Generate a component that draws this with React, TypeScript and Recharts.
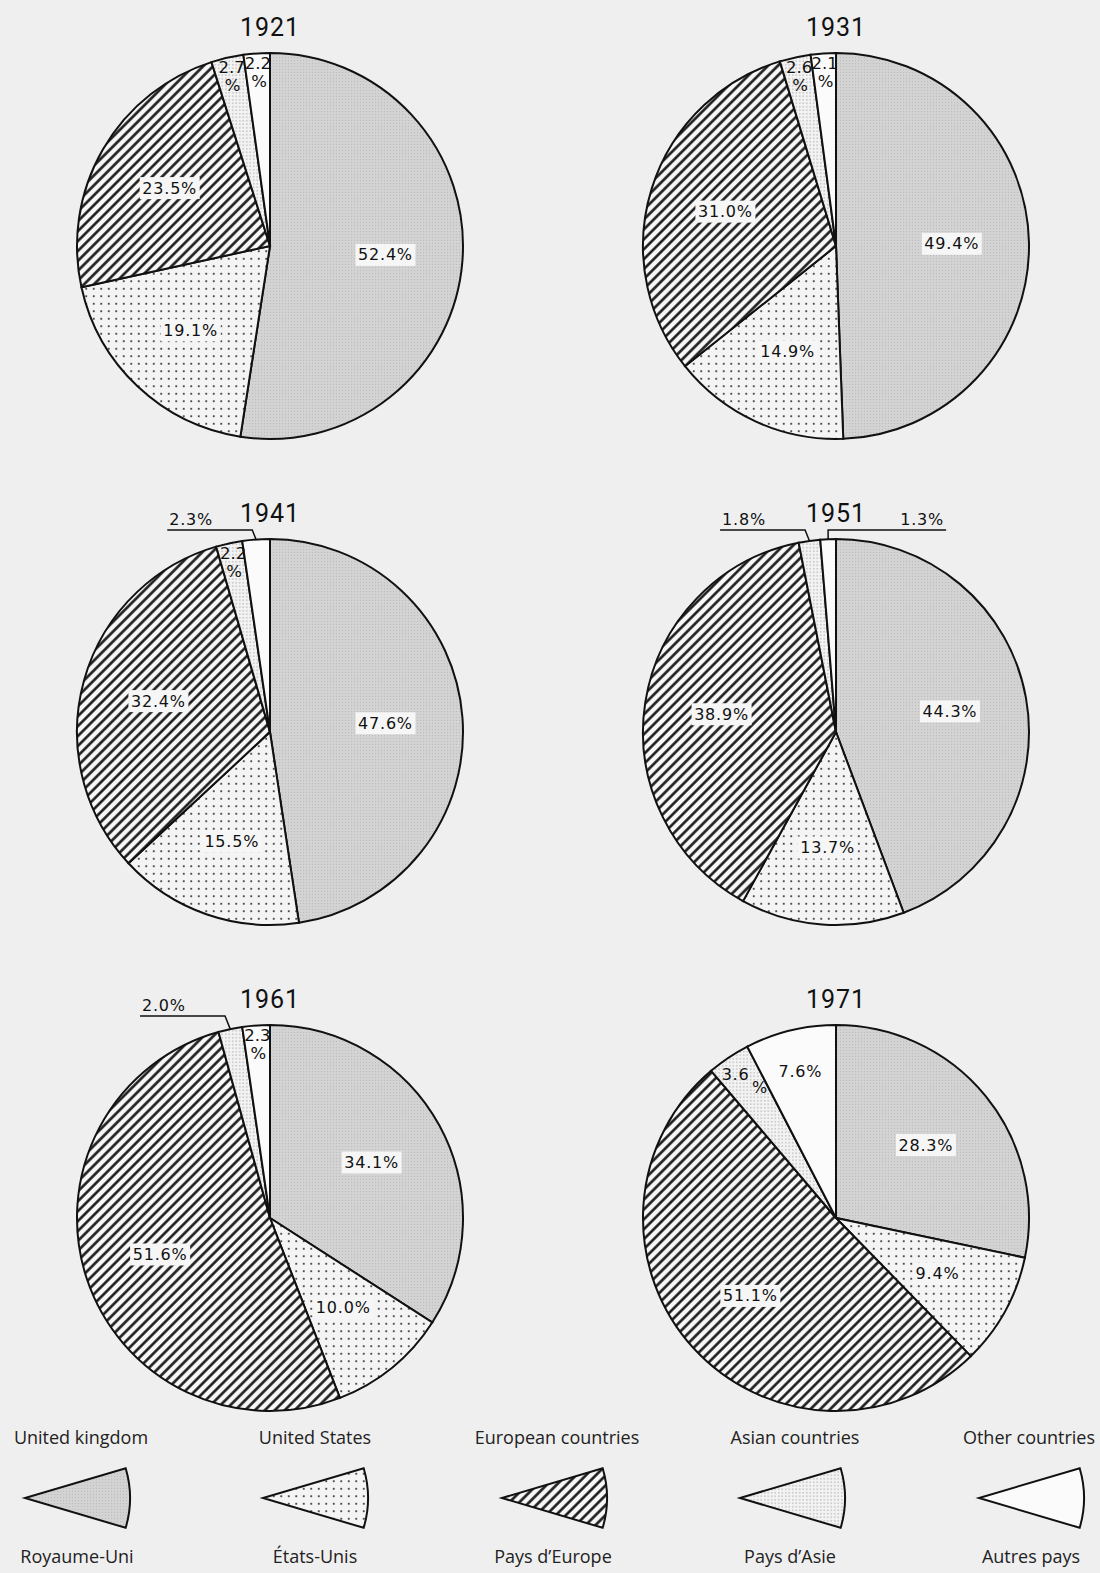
import React from 'react';
import { PieChart, Pie, Cell } from 'recharts';

const YEARS = ['1921', '1931', '1941', '1951', '1961', '1971'];
const CATEGORIES_EN = ['United kingdom', 'United States', 'European countries', 'Asian countries', 'Other countries'];
const CATEGORIES_FR = ['Royaume-Uni', 'États-Unis', 'Pays d’Europe', 'Pays d’Asie', 'Autres pays'];
const UNITED_KINGDOM = [52.4, 49.4, 47.6, 44.3, 34.1, 28.3];
const UNITED_STATES = [19.1, 14.9, 15.5, 13.7, 10.0, 9.4];
const EUROPEAN = [23.5, 31.0, 32.4, 38.9, 51.6, 51.1];
const ASIAN = [2.7, 2.6, 2.2, 1.8, 2.0, 3.6];
const OTHER = [2.2, 2.1, 2.3, 1.3, 2.3, 7.6];
const SERIES = [UNITED_KINGDOM, UNITED_STATES, EUROPEAN, ASIAN, OTHER];

// layout (not data)
const FILLS = ['url(#pUK)', 'url(#pUS)', 'url(#pEU)', 'url(#pAS)', 'url(#pOT)'];
const PIE_POS = [
  { cx: 270, cy: 246 },
  { cx: 836, cy: 246 },
  { cx: 270, cy: 732 },
  { cx: 836, cy: 732 },
  { cx: 270, cy: 1218 },
  { cx: 836, cy: 1218 },
];
const R = 193;
const LABEL_MODES = [
  ['box', 'box', 'box', 'stack', 'stack'],
  ['box', 'box', 'box', 'stack', 'stack'],
  ['box', 'box', 'box', 'stack', 'leaderLeft'],
  ['box', 'box', 'box', 'leaderLeft', 'leaderRight'],
  ['box', 'box', 'box', 'leaderLeft', 'stack'],
  ['box', 'box', 'box', 'diag', 'inline'],
];
const LEGEND_X = [25, 263, 502, 740, 979];
const LEGEND_TEXT_X = [81, 315, 557, 795, 1029];
const LEGEND_FR_X = [77, 315, 553, 790, 1031];

const RAD = Math.PI / 180;
const polar = (cx: number, cy: number, r: number, a: number) => [
  cx + r * Math.cos(-a * RAD),
  cy + r * Math.sin(-a * RAD),
];

const LABEL_FONT = '"DejaVu Sans", sans-serif';

const makeLabel = (yi: number) => (props: any) => {
  const { cx, cy, midAngle, outerRadius, index, value } = props;
  const mode = LABEL_MODES[yi][index];
  const v = Number(value).toFixed(1);
  const common = { fontFamily: LABEL_FONT, fill: '#111', fontSize: 16 };
  if (mode === 'box') {
    const [x, y] = polar(cx, cy, outerRadius * 0.6, midAngle);
    const txt = `${v}%`;
    const w = txt.length * 10.8 + 6;
    return (
      <g key={`l${index}`}>
        <rect x={x - w / 2} y={y - 11} width={w} height={22} fill="#f6f6f6" />
        <text x={x} y={y} textAnchor="middle" dominantBaseline="central" letterSpacing={0.8} {...common}>
          {txt}
        </text>
      </g>
    );
  }
  if (mode === 'stack') {
    const [x, y] = polar(cx, cy, outerRadius * 0.9, midAngle);
    return (
      <g key={`l${index}`}>
        <text x={x} y={y - 9} textAnchor="middle" dominantBaseline="central" {...common} fontSize={16.5}>{v}</text>
        <text x={x + 1} y={y + 9} textAnchor="middle" dominantBaseline="central" {...common} fontSize={16.5}>%</text>
      </g>
    );
  }
  if (mode === 'diag') {
    const [x, y] = polar(cx, cy, outerRadius * 0.86, midAngle);
    return (
      <g key={`l${index}`}>
        <text x={x - 8} y={y - 6} textAnchor="middle" dominantBaseline="central" letterSpacing={0.8} {...common}>{v}</text>
        <text x={x + 16} y={y + 7} textAnchor="middle" dominantBaseline="central" {...common}>%</text>
      </g>
    );
  }
  if (mode === 'inline') {
    const [x, y] = polar(cx, cy, outerRadius * 0.78, midAngle);
    return (
      <text key={`l${index}`} x={x} y={y} textAnchor="middle" dominantBaseline="central" letterSpacing={0.8} {...common}>
        {`${v}%`}
      </text>
    );
  }
  const [px, py] = polar(cx, cy, outerRadius, midAngle);
  const ey = cy - outerRadius - 9;
  if (mode === 'leaderLeft') {
    const ex = px - Math.max(2, (py - ey) * 0.4);
    const lx = ex - 85;
    return (
      <g key={`l${index}`}>
        <polyline points={`${px},${py} ${ex},${ey} ${lx},${ey}`} fill="none" stroke="#111" strokeWidth={1.5} />
        <text x={lx + 2} y={ey - 5} textAnchor="start" letterSpacing={0.8} {...common}>{`${v}%`}</text>
      </g>
    );
  }
  // leaderRight
  const rx = px + 118;
  return (
    <g key={`l${index}`}>
      <polyline points={`${px},${py} ${px},${ey} ${rx},${ey}`} fill="none" stroke="#111" strokeWidth={1.5} />
      <text x={rx - 2} y={ey - 5} textAnchor="end" letterSpacing={0.8} {...common}>{`${v}%`}</text>
    </g>
  );
};

const Patterns = () => (
  <svg width={0} height={0} style={{ position: 'absolute' }}>
    <defs>
      <pattern id="pUK" patternUnits="userSpaceOnUse" width={3} height={3}>
        <rect width={3} height={3} fill="#d3d3d3" />
        <rect x={0} y={0} width={1} height={1} fill="#bdbdbd" />
      </pattern>
      <pattern id="pUS" patternUnits="userSpaceOnUse" width={7.5} height={7.5}>
        <rect width={7.5} height={7.5} fill="#f4f4f4" />
        <circle cx={3.75} cy={3.75} r={1} fill="#222" />
      </pattern>
      <pattern id="pEU" patternUnits="userSpaceOnUse" width={7} height={7} patternTransform="rotate(45)">
        <rect width={7} height={7} fill="#f7f7f7" />
        <line x1={1.5} y1={0} x2={1.5} y2={7} stroke="#111" strokeWidth={2.5} />
      </pattern>
      <pattern id="pAS" patternUnits="userSpaceOnUse" width={3.5} height={3.5}>
        <rect width={3.5} height={3.5} fill="#f3f3f3" />
        <circle cx={1.75} cy={1.75} r={0.55} fill="#888" />
      </pattern>
      <pattern id="pOT" patternUnits="userSpaceOnUse" width={4} height={4}>
        <rect width={4} height={4} fill="#fbfbfb" />
      </pattern>
    </defs>
  </svg>
);

const legendTextStyle = (x: number, y: number): React.CSSProperties => ({
  position: 'absolute',
  left: x - 110,
  width: 220,
  top: y - 13,
  height: 26,
  lineHeight: '26px',
  textAlign: 'center',
  fontFamily: '"Open Sans", sans-serif',
  fontSize: 18,
  color: '#222',
});

export default function App() {
  const pies = YEARS.map((year, yi) =>
    CATEGORIES_EN.map((name, k) => ({ name, value: SERIES[k][yi] }))
  );
  return (
    <div style={{ position: 'absolute', left: 0, top: 0, width: 1100, height: 1573, background: '#efefef', overflow: 'hidden' }}>
      <Patterns />
      <div style={{ position: 'absolute', left: 0, top: 0 }}>
        <PieChart width={1100} height={1573} margin={{ top: 0, right: 0, bottom: 0, left: 0 }}>
          {pies.map((data, yi) => (
            <Pie
              key={YEARS[yi]}
              data={data}
              dataKey="value"
              nameKey="name"
              cx={PIE_POS[yi].cx}
              cy={PIE_POS[yi].cy}
              outerRadius={R}
              innerRadius={0}
              startAngle={90}
              endAngle={-270}
              stroke="#111"
              strokeWidth={2}
              label={makeLabel(yi)}
              labelLine={false}
              isAnimationActive={false}
            >
              {data.map((d, k) => (
                <Cell key={d.name} fill={FILLS[k]} stroke="#111" strokeWidth={2} />
              ))}
            </Pie>
          ))}
          {CATEGORIES_EN.map((name, k) => (
            <Pie
              key={`legend-${name}`}
              data={[{ name, value: 1 }]}
              dataKey="value"
              cx={LEGEND_X[k]}
              cy={1498}
              outerRadius={105}
              startAngle={16.5}
              endAngle={-16.5}
              stroke="#111"
              strokeWidth={2}
              isAnimationActive={false}
            >
              <Cell fill={FILLS[k]} stroke="#111" strokeWidth={2} />
            </Pie>
          ))}
        </PieChart>
      </div>
      {YEARS.map((y, yi) => (
        <div
          key={`t${y}`}
          style={{
            position: 'absolute',
            left: PIE_POS[yi].cx - 100,
            width: 200,
            top: PIE_POS[yi].cy - 218 - 16,
            height: 32,
            lineHeight: '32px',
            textAlign: 'center',
            fontFamily: 'Roboto, sans-serif',
            fontSize: 25,
            letterSpacing: 1,
            color: '#111',
          }}
        >
          {y}
        </div>
      ))}
      {CATEGORIES_EN.map((name, k) => (
        <React.Fragment key={`lt${k}`}>
          <div style={legendTextStyle(LEGEND_TEXT_X[k], 1437)}>{name}</div>
          <div style={legendTextStyle(LEGEND_FR_X[k], 1556)}>{CATEGORIES_FR[k]}</div>
        </React.Fragment>
      ))}
    </div>
  );
}
